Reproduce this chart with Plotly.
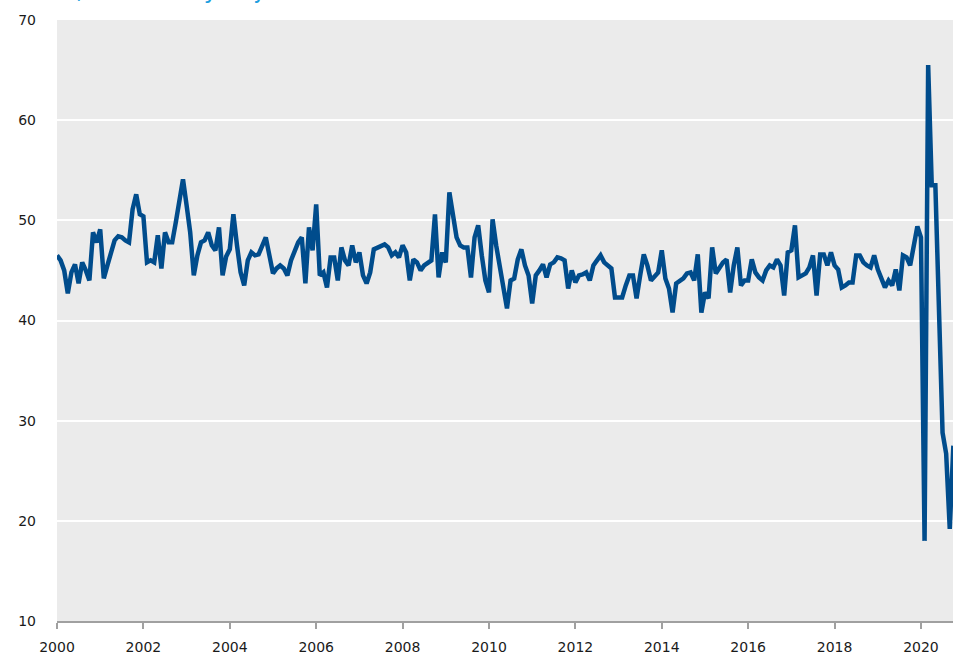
import plotly.graph_objects as go

# Monthly index values, Jan 2000 onward
values = [
    46.5, 46.0, 45.0, 42.7, 44.8, 45.6, 43.7, 45.8, 45.0, 44.0,   # 2000
    48.8, 47.8,
    49.1, 44.2, 45.5, 46.8, 48.0, 48.4, 48.3, 48.0, 47.8, 51.1,   # 2001
    52.6, 50.6,
    50.4, 45.8, 46.0, 45.8, 48.5, 45.2, 48.8, 47.8, 47.8, 49.8,   # 2002
    52.0, 54.1,
    51.5, 48.8, 44.5, 46.5, 47.8, 48.0, 48.8, 47.5, 47.0, 49.3,   # 2003
    44.5, 46.4,
    47.1, 50.6, 47.5, 44.8, 43.5, 46.0, 46.8, 46.5, 46.6, 47.5,   # 2004
    48.3, 46.5,
    44.7, 45.2, 45.5, 45.2, 44.5, 46.0, 47.0, 47.8, 48.3, 43.7,   # 2005
    49.3, 47.0,
    51.6, 44.5, 44.8, 43.3, 46.3, 46.3, 44.0, 47.3, 46.0, 45.5,   # 2006
    47.5, 45.8,
    46.8, 44.5, 43.7, 44.8, 47.1, 47.3, 47.5, 47.6, 47.3, 46.5,   # 2007
    46.8, 46.3,
    47.5, 46.8, 44.0, 46.1, 45.8, 45.0, 45.5, 45.8, 46.0, 50.6,   # 2008
    44.3, 46.8,
    45.8, 52.8, 50.6, 48.3, 47.5, 47.3, 47.3, 44.3, 48.3, 49.5,   # 2009
    46.5, 44.0,
    42.8, 50.1, 47.5, 45.5, 43.0, 41.2, 44.0, 44.2, 46.1, 47.1,   # 2010
    45.5, 44.5,
    41.7, 44.5, 45.0, 45.6, 44.3, 45.6, 45.8, 46.3, 46.2, 46.0,   # 2011
    43.2, 45.0,
    43.8, 44.5, 44.6, 44.8, 44.0, 45.5, 46.0, 46.5, 45.8, 45.5,   # 2012
    45.2, 42.3,
    42.3, 42.3, 43.5, 44.5, 44.5, 42.2, 44.5, 46.6, 45.5, 44.0,   # 2013
    44.4, 44.8,
    47.0, 44.2, 43.2, 40.8, 43.7, 44.0, 44.2, 44.7, 44.8, 44.0,   # 2014
    46.6, 40.8,
    42.8, 42.2, 47.3, 44.7, 45.3, 45.8, 46.1, 42.8, 45.5, 47.3,   # 2015
    43.5, 44.0,
    44.0, 46.1, 44.8, 44.3, 44.0, 45.0, 45.5, 45.3, 46.1, 45.5,   # 2016
    42.5, 46.8,
    47.0, 49.5, 44.3, 44.5, 44.7, 45.3, 46.5, 42.5, 46.6, 46.6,   # 2017
    45.5, 46.8,
    45.5, 45.1, 43.3, 43.5, 43.8, 43.8, 46.5, 46.5, 45.8, 45.5,   # 2018
    45.3, 46.5,
    45.1, 44.2, 43.3, 44.0, 43.5, 45.1, 43.0, 46.5, 46.3, 45.5,   # 2019
    47.5, 49.4,
    48.3, 18.0, 65.5, 53.5, 53.5, 41.0, 28.8, 26.7, 19.2, 27.5,   # 2020
]
start_year = 2000
dates = [start_year + i / 12 for i in range(len(values))]

x_ticks = list(range(2000, 2021, 2))
y_ticks = list(range(10, 71, 10))
subtitle = "Index, seasonally adjusted"

fig = go.Figure()
fig.add_trace(go.Scatter(
    x=dates, y=values, mode="lines",
    line=dict(color="#004c8c", width=4.5),
    hoverinfo="skip", showlegend=False,
))

fig.update_layout(
    width=953, height=658,
    margin=dict(l=57, r=0, t=20, b=37),
    paper_bgcolor="white",
    plot_bgcolor="#ebebeb",
    font=dict(family="DejaVu Sans", size=14, color="#1a1a1a"),
    xaxis=dict(
        range=[2000, 2000 + 248.9 / 12],
        tickvals=x_ticks, ticktext=[str(t) for t in x_ticks],
        showgrid=False, zeroline=False,
        showline=True, linecolor="#a0a0a0", linewidth=1.5,
        ticks="outside", ticklen=6, tickcolor="#a0a0a0", tickwidth=1.5,
        ticklabelstandoff=6,
    ),
    yaxis=dict(
        range=[10, 70],
        tickvals=y_ticks,
        showgrid=True, gridcolor="white", gridwidth=2,
        zeroline=False, showline=False,
        ticks="", ticklabelstandoff=20,
    ),
    annotations=[dict(
        text=subtitle,
        xref="paper", yref="paper", x=0, y=1,
        xshift=-49, yshift=14,
        xanchor="left", yanchor="bottom",
        showarrow=False,
        font=dict(family="DejaVu Sans", size=24, color="#1ea0e0"),
    )],
)

fig.write_html(
    "out.html",
    config={"displayModeBar": False},
    post_script="document.body.style.margin='0px';document.body.style.overflow='hidden';",
)
